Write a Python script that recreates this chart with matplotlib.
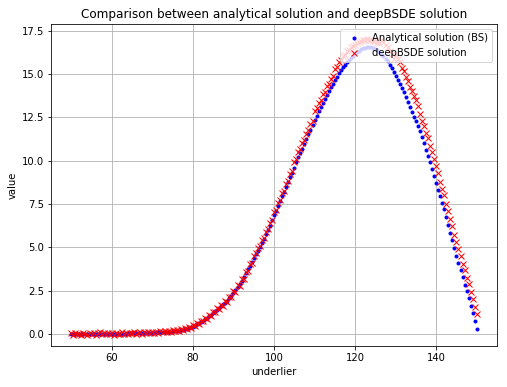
import numpy as np
import matplotlib
matplotlib.use("Agg")
import matplotlib.pyplot as plt

# underlier values (x)
underlier = [
    50.0, 50.5, 51.0, 51.5, 52.0, 52.5, 53.0, 53.5, 54.0, 54.5,
    55.0, 55.5, 56.0, 56.5, 57.0, 57.5, 58.0, 58.5, 59.0, 59.5,
    60.0, 60.5, 61.0, 61.5, 62.0, 62.5, 63.0, 63.5, 64.0, 64.5,
    65.0, 65.5, 66.0, 66.5, 67.0, 67.5, 68.0, 68.5, 69.0, 69.5,
    70.0, 70.5, 71.0, 71.5, 72.0, 72.5, 73.0, 73.5, 74.0, 74.5,
    75.0, 75.5, 76.0, 76.5, 77.0, 77.5, 78.0, 78.5, 79.0, 79.5,
    80.0, 80.5, 81.0, 81.5, 82.0, 82.5, 83.0, 83.5, 84.0, 84.5,
    85.0, 85.5, 86.0, 86.5, 87.0, 87.5, 88.0, 88.5, 89.0, 89.5,
    90.0, 90.5, 91.0, 91.5, 92.0, 92.5, 93.0, 93.5, 94.0, 94.5,
    95.0, 95.5, 96.0, 96.5, 97.0, 97.5, 98.0, 98.5, 99.0, 99.5,
    100.0, 100.5, 101.0, 101.5, 102.0, 102.5, 103.0, 103.5, 104.0, 104.5,
    105.0, 105.5, 106.0, 106.5, 107.0, 107.5, 108.0, 108.5, 109.0, 109.5,
    110.0, 110.5, 111.0, 111.5, 112.0, 112.5, 113.0, 113.5, 114.0, 114.5,
    115.0, 115.5, 116.0, 116.5, 117.0, 117.5, 118.0, 118.5, 119.0, 119.5,
    120.0, 120.5, 121.0, 121.5, 122.0, 122.5, 123.0, 123.5, 124.0, 124.5,
    125.0, 125.5, 126.0, 126.5, 127.0, 127.5, 128.0, 128.5, 129.0, 129.5,
    130.0, 130.5, 131.0, 131.5, 132.0, 132.5, 133.0, 133.5, 134.0, 134.5,
    135.0, 135.5, 136.0, 136.5, 137.0, 137.5, 138.0, 138.5, 139.0, 139.5,
    140.0, 140.5, 141.0, 141.5, 142.0, 142.5, 143.0, 143.5, 144.0, 144.5,
    145.0, 145.5, 146.0, 146.5, 147.0, 147.5, 148.0, 148.5, 149.0, 149.5,
    150.0,
]

# analytical (Black-Scholes) values
analytical = [
    0.00, 0.00, 0.00, 0.00, 0.00, 0.00, 0.00, 0.00, 0.00, 0.00,
    0.00, 0.00, 0.00, 0.00, 0.00, 0.00, 0.01, 0.01, 0.01, 0.01,
    0.01, 0.01, 0.01, 0.01, 0.02, 0.02, 0.02, 0.02, 0.03, 0.03,
    0.03, 0.03, 0.04, 0.04, 0.04, 0.04, 0.05, 0.05, 0.06, 0.06,
    0.07, 0.07, 0.08, 0.08, 0.09, 0.10, 0.10, 0.11, 0.12, 0.13,
    0.14, 0.16, 0.17, 0.19, 0.21, 0.23, 0.26, 0.29, 0.33, 0.37,
    0.42, 0.48, 0.55, 0.61, 0.68, 0.76, 0.84, 0.93, 1.02, 1.11,
    1.20, 1.30, 1.40, 1.50, 1.60, 1.70, 1.80, 1.92, 2.05, 2.20,
    2.35, 2.52, 2.70, 2.87, 3.05, 3.27, 3.50, 3.72, 3.95, 4.17,
    4.40, 4.60, 4.80, 5.02, 5.25, 5.50, 5.75, 6.00, 6.25, 6.55,
    6.85, 7.12, 7.40, 7.68, 7.95, 8.22, 8.50, 8.78, 9.05, 9.32,
    9.60, 9.90, 10.20, 10.45, 10.70, 10.98, 11.25, 11.52, 11.80, 12.08,
    12.35, 12.60, 12.85, 13.10, 13.35, 13.58, 13.80, 14.03, 14.25, 14.45,
    14.65, 14.85, 15.05, 15.23, 15.40, 15.55, 15.70, 15.83, 15.95, 16.08,
    16.20, 16.28, 16.35, 16.43, 16.50, 16.53, 16.55, 16.55, 16.55, 16.50,
    16.45, 16.38, 16.30, 16.18, 16.05, 15.90, 15.75, 15.55, 15.35, 15.13,
    14.90, 14.68, 14.45, 14.20, 13.95, 13.68, 13.40, 13.10, 12.80, 12.55,
    12.30, 12.00, 11.70, 11.35, 11.00, 10.65, 10.30, 9.90, 9.50, 9.10,
    8.70, 8.32, 7.95, 7.58, 7.20, 6.75, 6.30, 5.85, 5.40, 4.95,
    4.50, 4.10, 3.70, 3.28, 2.85, 2.45, 2.05, 1.62, 1.20, 0.75,
    0.30,
]

# deepBSDE values
deepbsde = [
    0.03, -0.04, 0.06, -0.02, 0.01, -0.06, 0.05, 0.02, -0.04, 0.07,
    -0.01, 0.04, -0.05, 0.03, 0.08, -0.03, 0.05, -0.02, 0.07, 0.00,
    0.04, -0.04, 0.06, 0.02, -0.03, 0.08, 0.01, 0.05, -0.02, 0.07,
    0.03, 0.09, 0.00, 0.06, 0.10, 0.02, 0.08, 0.03, 0.11, 0.04,
    0.12, 0.05, 0.13, 0.06, 0.14, 0.09, 0.16, 0.08, 0.18, 0.11,
    0.20, 0.14, 0.23, 0.16, 0.27, 0.20, 0.32, 0.26, 0.39, 0.34,
    0.49, 0.44, 0.62, 0.57, 0.75, 0.72, 0.91, 0.88, 1.10, 1.06,
    1.28, 1.24, 1.48, 1.44, 1.69, 1.63, 1.89, 1.85, 2.14, 2.12,
    2.45, 2.44, 2.80, 2.78, 3.15, 3.18, 3.60, 3.63, 4.06, 4.08,
    4.52, 4.66, 4.95, 5.08, 5.40, 5.56, 5.90, 6.06, 6.42, 6.60,
    7.02, 7.18, 7.57, 7.74, 8.12, 8.28, 8.68, 8.85, 9.22, 9.40,
    9.90, 10.12, 10.50, 10.66, 11.02, 11.20, 11.56, 11.75, 12.10, 12.30,
    12.85, 13.02, 13.35, 13.52, 13.85, 14.00, 14.30, 14.45, 14.75, 14.88,
    15.30, 15.42, 15.70, 15.80, 16.05, 16.12, 16.35, 16.40, 16.60, 16.62,
    16.70, 16.78, 16.85, 16.90, 16.98, 16.96, 17.02, 16.98, 17.00, 16.92,
    16.92, 16.82, 16.80, 16.95, 16.88, 16.68, 16.58, 16.33, 16.18, 15.90,
    16.12, 15.85, 15.68, 15.38, 15.18, 14.85, 14.62, 14.28, 14.02, 13.72,
    13.52, 13.18, 12.72, 12.32, 12.03, 11.62, 11.32, 10.88, 10.52, 10.08,
    9.72, 9.30, 8.78, 8.36, 8.02, 7.53, 7.12, 6.63, 6.22, 5.73,
    5.32, 4.88, 4.52, 4.06, 3.67, 3.23, 2.87, 2.40, 2.02, 1.55,
    1.12,
]

fig = plt.figure(figsize=(507 / 72, 387 / 72), dpi=72)
ax = fig.add_axes([51 / 507, 41 / 387, 446 / 507, 322 / 387])

ax.plot(underlier, analytical, "b.", label="Analytical solution (BS)")
ax.plot(underlier, deepbsde, "rx", label="deepBSDE solution")

ax.set_title("Comparison between analytical solution and deepBSDE solution", fontsize=12)
ax.set_xlabel("underlier")
ax.set_ylabel("value")
ax.set_xticks([60, 80, 100, 120, 140])
ax.set_yticks(np.arange(0, 17.6, 2.5))
ax.set_ylim(-0.7, 17.9)
ax.grid(True)
ax.legend(loc="upper right")

fig.savefig("out.png", dpi=72)
